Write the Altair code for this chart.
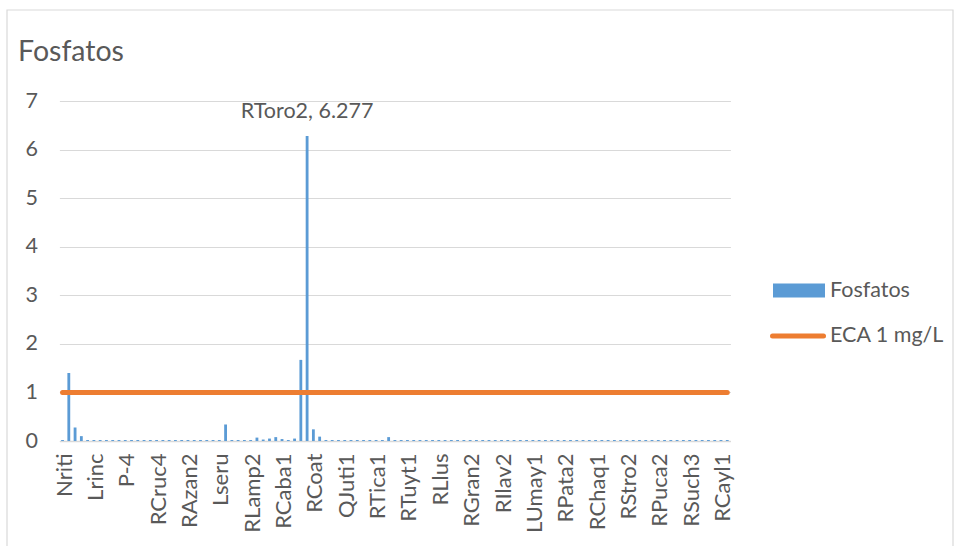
import altair as alt
import pandas as pd

# Phosphate concentration (mg/L) per sampling station, in station order
FOSFATOS = [
    0.02, 1.40, 0.28, 0.10, 0.02, 0.02, 0.02, 0.02, 0.02, 0.02,   # 0-9
    0.02, 0.02, 0.02, 0.02, 0.02, 0.02, 0.02, 0.02, 0.02, 0.02,   # 10-19
    0.02, 0.02, 0.02, 0.02, 0.02, 0.02, 0.34, 0.02, 0.02, 0.02,   # 20-29
    0.02, 0.07, 0.03, 0.05, 0.08, 0.04, 0.02, 0.05, 1.67, 6.277,  # 30-39
    0.24, 0.09, 0.02, 0.02, 0.02, 0.02, 0.02, 0.02, 0.02, 0.02,   # 40-49
    0.02, 0.02, 0.08, 0.02, 0.02, 0.02, 0.02, 0.02, 0.02, 0.02,   # 50-59
    0.02, 0.02, 0.02, 0.02, 0.02, 0.02, 0.02, 0.02, 0.02, 0.02,   # 60-69
    0.02, 0.02, 0.02, 0.02, 0.02, 0.02, 0.02, 0.02, 0.02, 0.02,   # 70-79
    0.02, 0.02, 0.02, 0.02, 0.02, 0.02, 0.02, 0.02, 0.02, 0.02,   # 80-89
    0.02, 0.02, 0.02, 0.02, 0.02, 0.02, 0.02, 0.02, 0.02, 0.02,   # 90-99
    0.02, 0.02, 0.02, 0.02, 0.02, 0.02, 0.02,                     # 100-106
]

# Station names shown on the axis (every fifth station)
AXIS_NAMES = [
    "Nriti", "Lrinc", "P-4", "RCruc4", "RAzan2", "Lseru", "RLamp2", "RCaba1",
    "RCoat", "QJuti1", "RTica1", "RTuyt1", "RLlus", "RGran2", "RIlav2",
    "LUmay1", "RPata2", "RChaq1", "RStro2", "RPuca2", "RSuch3", "RCayl1",
]
LABEL_STEP = 5

# Highlighted station (maximum)
PEAK_INDEX = 39
PEAK_NAME = "RToro2"

ECA_LIMIT = 1.0
SERIES_BAR = "Fosfatos"
SERIES_LINE = "ECA 1 mg/L"
TITLE = "Fosfatos"

BLUE = "#5B9BD5"
ORANGE = "#ED7D31"
GRID = "#D9D9D9"
TEXT = "#595959"
FONT = "Lato"
FS = 21.5

df = pd.DataFrame({
    "idx": list(range(len(FOSFATOS))),
    "valor": FOSFATOS,
    "eca": [ECA_LIMIT] * len(FOSFATOS),
})
peak_df = pd.DataFrame({
    "idx": [PEAK_INDEX],
    "valor": [FOSFATOS[PEAK_INDEX]],
    "etiqueta": [f"{PEAK_NAME}, {FOSFATOS[PEAK_INDEX]}"],
})

W, H = 671, 340
LEFT, TOP = 59.4, 101

names_js = "[" + ",".join(f"'{n}'" for n in AXIS_NAMES) + "]"

x_enc = alt.X(
    "idx:O",
    scale=alt.Scale(paddingInner=0.55, paddingOuter=0.275),
    axis=alt.Axis(
        values=list(range(0, len(FOSFATOS), LABEL_STEP)),
        labelExpr=f"{names_js}[datum.value / {LABEL_STEP}]",
        labelAngle=-90, labelAlign="right", labelBaseline="middle",
        labelFont=FONT, labelFontSize=22, labelColor=TEXT,
        labelPadding=12, labelOverlap=False, labelOffset=2,
        ticks=False, domainColor=GRID, domainWidth=1.5, grid=False, title=None,
    ),
)
y_enc = alt.Y(
    "valor:Q",
    scale=alt.Scale(domain=[0, 7], nice=False),
    axis=alt.Axis(
        values=list(range(0, 8)), format="d",
        labelFont=FONT, labelFontSize=FS, labelColor=TEXT, labelPadding=22,
        ticks=False, domain=False, grid=True, gridColor=GRID, gridWidth=1.2,
        title=None,
    ),
)

one = pd.DataFrame({"k": [0]})

# thin outer border of the chart area
frame = alt.Chart(one).mark_rect(fillOpacity=0, stroke=GRID, strokeWidth=1.2).encode(
    x=alt.value(7 - LEFT), x2=alt.value(953 - LEFT),
    y=alt.value(10 - TOP), y2=alt.value(560 - TOP),
)

bars = alt.Chart(df).mark_bar(color=BLUE).encode(x=x_enc, y=y_enc)

eca = alt.Chart(df).mark_line(color=ORANGE, strokeWidth=5, strokeCap="round").encode(
    x="idx:O", y="eca:Q"
)

peak = alt.Chart(peak_df).mark_text(
    font=FONT, fontSize=FS, color=TEXT, align="center", baseline="alphabetic", dy=-18
).encode(x="idx:O", y="valor:Q", text="etiqueta:N")

title = alt.Chart(one).mark_text(
    text=TITLE, font=FONT, fontSize=28.5, color=TEXT, align="left", baseline="alphabetic"
).encode(x=alt.value(18 - LEFT), y=alt.value(61 - TOP))

leg_bar = alt.Chart(one).mark_rect(color=BLUE).encode(
    x=alt.value(773 - LEFT), x2=alt.value(825 - LEFT),
    y=alt.value(283.5 - TOP), y2=alt.value(297.5 - TOP),
)
leg_line = alt.Chart(one).mark_rule(color=ORANGE, strokeWidth=5, strokeCap="round").encode(
    x=alt.value(772.5 - LEFT), x2=alt.value(823.5 - LEFT),
    y=alt.value(336 - TOP),
)
leg_t1 = alt.Chart(one).mark_text(
    text=SERIES_BAR, font=FONT, fontSize=FS, color=TEXT, align="left", baseline="middle"
).encode(x=alt.value(830 - LEFT), y=alt.value(290.5 - TOP))
leg_t2 = alt.Chart(one).mark_text(
    text=SERIES_LINE, font=FONT, fontSize=FS, color=TEXT, align="left", baseline="middle"
).encode(x=alt.value(830 - LEFT), y=alt.value(336 - TOP))

chart = alt.layer(
    frame, bars, eca, peak, title, leg_bar, leg_line, leg_t1, leg_t2
).properties(
    width=W, height=H,
    background="white",
    autosize=alt.AutoSizeParams(type="none"),
    padding={"left": LEFT, "top": TOP, "right": 955 - LEFT - W, "bottom": 546 - TOP - H},
).configure_view(stroke=None)

chart.save("out.html", embed_options={"renderer": "svg", "actions": False})
